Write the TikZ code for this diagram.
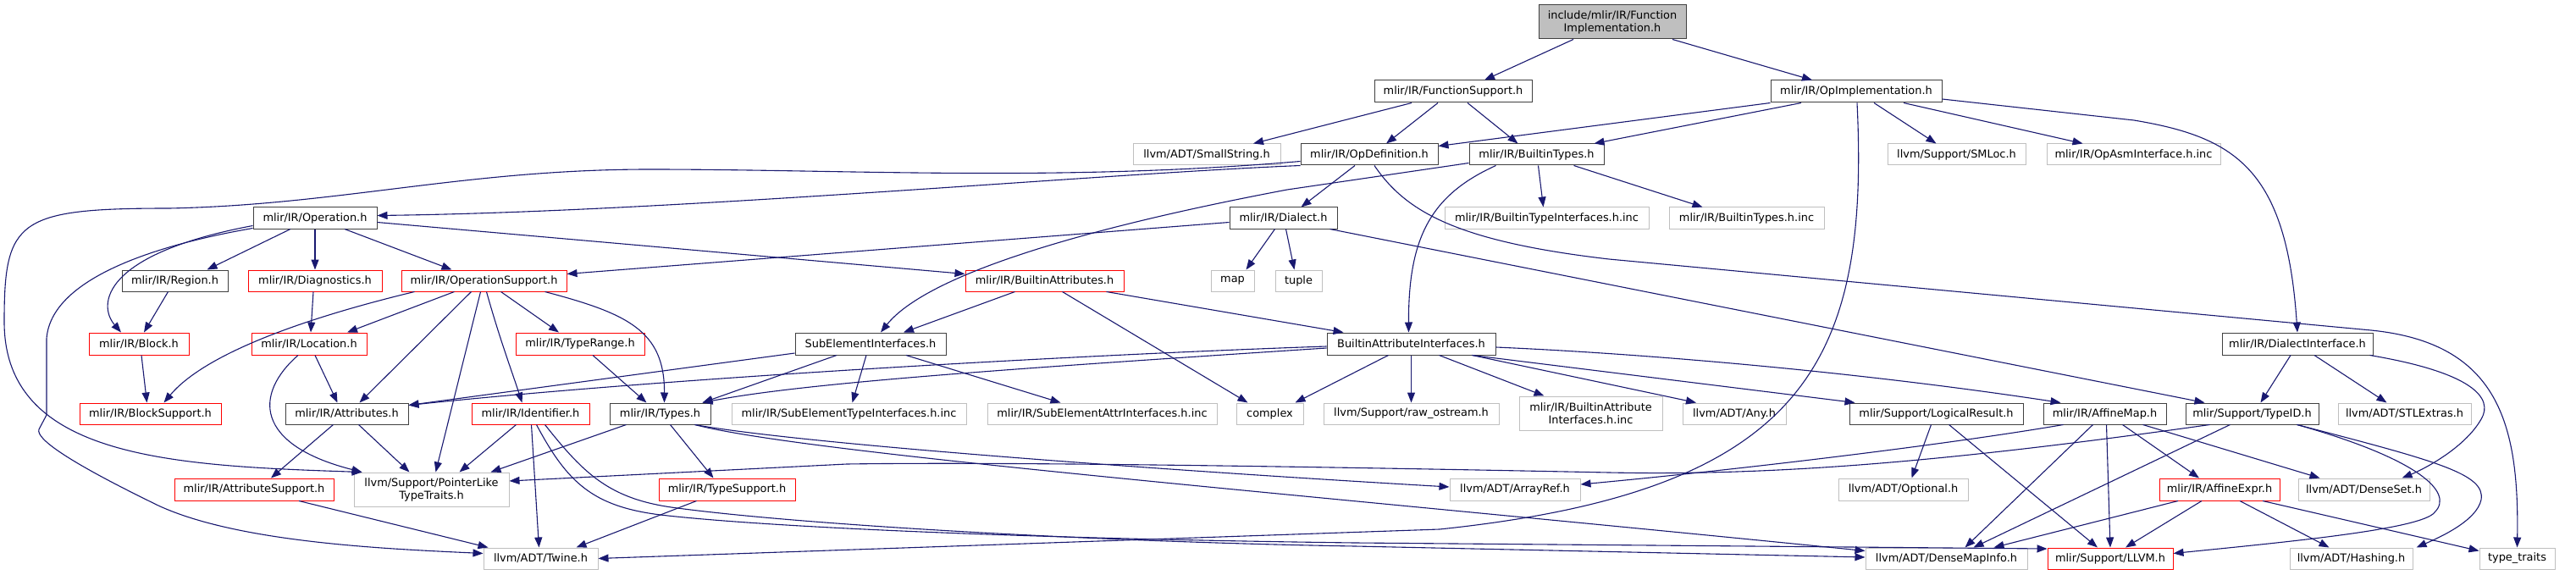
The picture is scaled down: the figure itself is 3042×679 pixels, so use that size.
\documentclass[tikz,border=0pt]{standalone}
\usepackage{fontspec}
\setmainfont{DejaVu Sans}
\usetikzlibrary{arrows.meta}
\definecolor{edgec}{HTML}{191970}
\definecolor{grayb}{HTML}{BFBFBF}
\definecolor{blackb}{HTML}{404040}
\newcommand\dxnode[7]{\node[#6, minimum width={(#4-#2)*1pt}, minimum height={(#5-#3)*1pt}] (#1) at ({(#2+#4)/2},{(#3+#5)/2}) {#7};}
\begin{document}
\begin{tikzpicture}[x=1pt,y=-1pt, font={\fontsize{12.9}{15}\selectfont},
 box/.style={draw, rectangle, inner sep=0pt, line width=1pt, align=center},
 bk/.style={box, draw=blackb},
 rd/.style={box, draw=red},
 gr/.style={box, draw=grayb},
 rt/.style={box, draw=blackb, fill=grayb},
 e/.style={draw=edgec, line width=1.1pt, -{Triangle[length=12pt,width=9pt]}}]
\useasboundingbox (0,0) rectangle (3042,679);
\dxnode{root}{1817}{6}{1991}{46}{rt}{include/mlir/IR/Function\\Implementation.h}
\dxnode{fs}{1623}{95}{1809}{121}{bk}{mlir/IR/FunctionSupport.h}
\dxnode{oi}{2091}{95}{2293}{121}{bk}{mlir/IR/OpImplementation.h}
\dxnode{ss}{1338}{170}{1512}{195}{gr}{llvm/ADT/SmallString.h}
\dxnode{od}{1536}{170}{1698}{195}{bk}{mlir/IR/OpDefinition.h}
\dxnode{bt}{1735}{170}{1894}{195}{bk}{mlir/IR/BuiltinTypes.h}
\dxnode{sm}{2229}{170}{2392}{195}{gr}{llvm/Support/SMLoc.h}
\dxnode{oa}{2417}{170}{2622}{195}{gr}{mlir/IR/OpAsmInterface.h.inc}
\dxnode{op}{299}{245}{445}{270}{bk}{mlir/IR/Operation.h}
\dxnode{di}{1452}{245}{1579}{270}{bk}{mlir/IR/Dialect.h}
\dxnode{bti}{1706}{245}{1947}{270}{gr}{mlir/IR/BuiltinTypeInterfaces.h.inc}
\dxnode{btinc}{1971}{245}{2154}{270}{gr}{mlir/IR/BuiltinTypes.h.inc}
\dxnode{rg}{144}{319}{269}{344}{bk}{mlir/IR/Region.h}
\dxnode{dg}{293}{319}{451}{344}{rd}{mlir/IR/Diagnostics.h}
\dxnode{os}{474}{319}{669}{344}{rd}{mlir/IR/OperationSupport.h}
\dxnode{ba}{1140}{319}{1327}{344}{rd}{mlir/IR/BuiltinAttributes.h}
\dxnode{map}{1430}{319}{1481}{344}{gr}{map}
\dxnode{tup}{1506}{319}{1561}{344}{gr}{tuple}
\dxnode{bl}{105}{393}{223}{419}{rd}{mlir/IR/Block.h}
\dxnode{lo}{297}{393}{433}{419}{rd}{mlir/IR/Location.h}
\dxnode{tr}{609}{393}{761}{419}{rd}{mlir/IR/TypeRange.h}
\dxnode{sei}{939}{393}{1117}{419}{bk}{SubElementInterfaces.h}
\dxnode{bai}{1567}{393}{1766}{419}{bk}{BuiltinAttributeInterfaces.h}
\dxnode{dif}{2624}{393}{2802}{419}{bk}{mlir/IR/DialectInterface.h}
\dxnode{bs}{94}{476}{261}{501}{rd}{mlir/IR/BlockSupport.h}
\dxnode{at}{337}{476}{482}{501}{bk}{mlir/IR/Attributes.h}
\dxnode{id}{557}{476}{696}{501}{rd}{mlir/IR/Identifier.h}
\dxnode{ty}{720}{476}{839}{501}{bk}{mlir/IR/Types.h}
\dxnode{seti}{864}{476}{1141}{501}{gr}{mlir/IR/SubElementTypeInterfaces.h.inc}
\dxnode{seai}{1166}{476}{1437}{501}{gr}{mlir/IR/SubElementAttrInterfaces.h.inc}
\dxnode{cx}{1460}{476}{1539}{501}{gr}{complex}
\dxnode{ro}{1563}{476}{1770}{501}{gr}{llvm/Support/raw\_ostream.h}
\dxnode{baii}{1794}{468}{1963}{508}{gr}{mlir/IR/BuiltinAttribute\\Interfaces.h.inc}
\dxnode{any}{1987}{476}{2109}{501}{gr}{llvm/ADT/Any.h}
\dxnode{lr}{2184}{476}{2389}{501}{bk}{mlir/Support/LogicalResult.h}
\dxnode{am}{2413}{476}{2558}{501}{bk}{mlir/IR/AffineMap.h}
\dxnode{tid}{2581}{476}{2738}{501}{bk}{mlir/Support/TypeID.h}
\dxnode{stl}{2761}{476}{2918}{501}{gr}{llvm/ADT/STLExtras.h}
\dxnode{as}{206}{565}{394}{591}{rd}{mlir/IR/AttributeSupport.h}
\dxnode{pl}{418}{558}{601}{598}{gr}{llvm/Support/PointerLike\\TypeTraits.h}
\dxnode{ts}{778}{565}{939}{591}{rd}{mlir/IR/TypeSupport.h}
\dxnode{ar}{1712}{565}{1866}{591}{gr}{llvm/ADT/ArrayRef.h}
\dxnode{opt}{2171}{565}{2324}{591}{gr}{llvm/ADT/Optional.h}
\dxnode{ae}{2550}{565}{2692}{591}{rd}{mlir/IR/AffineExpr.h}
\dxnode{ds}{2714}{565}{2869}{591}{gr}{llvm/ADT/DenseSet.h}
\dxnode{tw}{571}{647}{706}{672}{gr}{llvm/ADT/Twine.h}
\dxnode{dmi}{2203}{647}{2394}{672}{gr}{llvm/ADT/DenseMapInfo.h}
\dxnode{llvm}{2418}{647}{2566}{672}{rd}{mlir/Support/LLVM.h}
\dxnode{hs}{2704}{647}{2849}{672}{gr}{llvm/ADT/Hashing.h}
\dxnode{tt}{2928}{647}{3017}{672}{gr}{type\_traits}
% root
\draw[e] ([xshift=-46pt]root.south) -- ([xshift=37pt]fs.north);
\draw[e] ([xshift=71pt]root.south) -- ([xshift=-52pt]oi.north);
% FunctionSupport
\draw[e] ([xshift=-49pt]fs.south) -- ([xshift=55pt]ss.north);
\draw[e] ([xshift=-18pt]fs.south) -- ([xshift=20pt]od.north);
\draw[e] ([xshift=17pt]fs.south) -- ([xshift=-22pt]bt.north);
% OpImplementation
\draw[e] (oi.south west) -- ([yshift=-3pt]od.north east);
\draw[e] ([xshift=-65pt]oi.south) -- ([xshift=68pt]bt.north);
\draw[e] ([xshift=1pt]oi.south) .. controls (2208,430) and (2130,580) .. (1700,625) -- (tw.east);
\draw[e] ([xshift=21pt]oi.south) -- ([xshift=-24pt]sm.north);
\draw[e] ([xshift=56pt]oi.south) -- ([xshift=-60pt]oa.north);
\draw[e] ([yshift=-9pt]oi.east) -- (2520,142) .. controls (2640,162) and (2700,200) .. (dif.north);
% OpDefinition
\draw[e] (od.south west) .. controls (1300,205) and (800,250) .. ([yshift=3pt]op.east);
\draw[e] ([xshift=-17pt]od.south) -- ([xshift=21pt]di.north);
\draw[e] ([yshift=-8pt]od.west) .. controls (1250,215) and (1000,200) .. (767,200) .. controls (550,200) and (400,242) .. (200,246) .. controls (20,246) and (5,260) .. (5,380) .. controls (5,540) and (200,550) .. ([xshift=10pt]pl.north west);
\draw[e] ([xshift=6pt]od.south) .. controls (1660,250) and (1720,285) .. (1900,306) -- (2800,390) .. controls (2950,405) and (2975,500) .. (tt.north);
% BuiltinTypes
\draw[e] ([yshift=-10pt]bt.west) -- (1520,224) .. controls (1250,275) and (1090,330) .. ([xshift=12pt]sei.north);
\draw[e] ([xshift=-48pt]bt.south) .. controls (1690,230) and (1663,280) .. ([xshift=-3pt]bai.north);
\draw[e] ([xshift=2pt]bt.south) -- ([xshift=-4pt]bti.north);
\draw[e] ([xshift=44pt]bt.south) -- ([xshift=-52pt]btinc.north);
% Dialect
\draw[e] ([yshift=-5pt]di.west) -- ([yshift=8pt]os.east);
\draw[e] ([xshift=-10pt]di.south) -- ([xshift=16pt]map.north);
\draw[e] ([xshift=3pt]di.south) -- ([xshift=-5pt]tup.north);
\draw[e] ([xshift=55pt]di.south) -- ([xshift=-56pt]tid.north);
% Operation
\draw[e] ([xshift=-29pt]op.south) -- ([xshift=38pt]rg.north);
\draw[e] (op.south) -- (dg.north);
\draw[e] ([xshift=35pt]op.south) -- ([xshift=-38pt]os.north);
\draw[e] ([yshift=-5pt]op.east) -- ([yshift=8pt]ba.west);
\draw[e] ([yshift=-9pt]op.west) .. controls (120,300) and (115,360) .. ([xshift=-21pt]bl.north);
\draw[e] ([yshift=-12pt]op.west) .. controls (180,290) and (60,330) .. (55,400) -- (55,490) -- (46,507) .. controls (42,518) and (80,545) .. (187,597) .. controls (280,640) and (450,648) .. ([yshift=6pt]tw.west);
% Region, Diagnostics, Block
\draw[e] ([xshift=-8pt]rg.south) -- ([xshift=6pt]bl.north);
\draw[e] ([xshift=-2pt]dg.south) -- ([xshift=2pt]lo.north);
\draw[e] ([xshift=3pt]bl.south) -- ([xshift=-4pt]bs.north);
% OperationSupport
\draw[e] ([xshift=-82pt]os.south) .. controls (350,378) and (240,420) .. ([xshift=16pt]bs.north);
\draw[e] ([xshift=-35pt]os.south) -- ([xshift=45pt]lo.north);
\draw[e] ([xshift=-15pt]os.south) -- ([xshift=15pt]at.north);
\draw[e] ([xshift=-4pt]os.south) -- ([xshift=5pt]pl.north);
\draw[e] ([xshift=3pt]os.south) .. controls (590,400) and (605,440) .. ([xshift=-10pt]id.north);
\draw[e] ([xshift=20pt]os.south) -- ([xshift=-25pt]tr.north);
\draw[e] ([xshift=72pt]os.south) .. controls (740,370) and (785,390) .. ([xshift=5pt]ty.north);
% BuiltinAttributes
\draw[e] ([xshift=-35pt]ba.south) -- ([xshift=39pt]sei.north);
\draw[e] ([xshift=21pt]ba.south) -- ([xshift=-26pt]cx.north);
\draw[e] ([xshift=73pt]ba.south) -- ([xshift=-80pt]bai.north);
% Location, Attributes
\draw[e] ([xshift=7pt]lo.south) -- ([xshift=-11pt]at.north);
\draw[e] ([xshift=-13pt]lo.south) .. controls (300,465) and (300,525) .. ([xshift=10pt]pl.north west);
\draw[e] ([xshift=-16pt]at.south) -- ([xshift=20pt]as.north);
\draw[e] ([xshift=14pt]at.south) -- ([xshift=-26pt]pl.north);
\draw[e] ([xshift=53pt]as.south) -- ([xshift=-62pt]tw.north);
\draw[e] ([xshift=15pt]tr.south) -- ([xshift=-16pt]ty.north);
% SubElementInterfaces
\draw[e] ([yshift=-11pt]sei.west) -- ([yshift=10pt]at.east);
\draw[e] ([xshift=-40pt]sei.south) -- ([xshift=-10pt]ty.north east);
\draw[e] ([xshift=-5pt]sei.south) -- ([xshift=4pt]seti.north);
\draw[e] ([xshift=42pt]sei.south) -- ([xshift=-49pt]seai.north);
% BuiltinAttributeInterfaces
\draw[e] ([yshift=-3pt]bai.west) .. controls (1300,418) and (800,445) .. ([yshift=10pt]at.east);
\draw[e] ([yshift=-5pt]bai.west) .. controls (1200,435) and (950,452) .. ([xshift=-10pt]ty.north east);
\draw[e] ([xshift=-27pt]bai.south) -- ([xshift=30pt]cx.north);
\draw[e] (bai.south) -- (ro.north);
\draw[e] ([xshift=33pt]bai.south) -- ([xshift=-55pt]baii.north);
\draw[e] ([xshift=72pt]bai.south) -- ([xshift=-45pt]any.north);
\draw[e] ([xshift=72pt]bai.south) -- ([xshift=-96pt]lr.north);
\draw[e] ([yshift=-4pt]bai.east) .. controls (1950,418) and (2200,440) .. ([xshift=-52pt]am.north);
% Types
\draw[e] ([xshift=-40pt]ty.south) -- ([xshift=70pt]pl.north);
\draw[e] ([xshift=12pt]ty.south) -- ([xshift=-16pt]ts.north);
\draw[e] ([xshift=-19pt]ty.south east) .. controls (950,525) and (1400,557) .. ([yshift=3pt]ar.west);
\draw[e] ([xshift=-19pt]ty.south east) .. controls (950,535) and (1500,580) .. ([yshift=9pt]dmi.west);
\draw[e] ([xshift=-36pt]ts.south) -- ([xshift=42pt]tw.north);
% Identifier
\draw[e] ([xshift=-17pt]id.south) -- ([xshift=33pt]pl.north);
\draw[e] ([xshift=1pt]id.south) -- ([xshift=-2pt]tw.north);
\draw[e] ([xshift=7pt]id.south) .. controls (670,570) and (700,598) .. (780,608) .. controls (900,622) and (1200,636) .. (1600,641) -- ([yshift=11.5pt]llvm.west);
\draw[e] ([xshift=17pt]id.south) .. controls (690,560) and (720,590) .. (800,600) .. controls (950,620) and (1300,640) .. (1600,645) -- ([yshift=1.5pt]dmi.west);
% AffineMap, TypeID
\draw[e] ([xshift=24pt]am.south west) .. controls (2300,525) and (2050,555) .. ([yshift=6pt]ar.east);
\draw[e] ([xshift=29pt]tid.south west) .. controls (2300,545) and (2100,562) .. (1900,558) .. controls (1600,552) and (1200,545) .. (1000,548) -- ([yshift=10pt]pl.east);
\draw[e] ([xshift=-14pt]am.south) -- ([xshift=22pt]dmi.north);
\draw[e] ([xshift=2pt]am.south) -- (llvm.north);
\draw[e] ([xshift=21pt]am.south) -- ([xshift=-24pt]ae.north);
\draw[e] ([xshift=45pt]am.south) -- ([xshift=-52pt]ds.north);
\draw[e] ([xshift=-6pt]lr.south) -- ([xshift=10pt]opt.north);
\draw[e] ([xshift=15pt]lr.south) -- ([xshift=-15pt]llvm.north);
\draw[e] ([xshift=-26pt]tid.south) -- ([xshift=32pt]dmi.north);
\draw[e] ([xshift=53pt]tid.south) .. controls (2850,540) and (2900,580) .. (2875,605) .. controls (2860,625) and (2700,640) .. ([yshift=6pt]llvm.east);
\draw[e] ([xshift=53pt]tid.south) .. controls (2880,545) and (2935,560) .. (2930,590) .. controls (2925,615) and (2880,635) .. ([xshift=4pt]hs.north east);
% AffineExpr
\draw[e] ([xshift=-49pt]ae.south) -- ([xshift=56pt]dmi.north);
\draw[e] ([xshift=-21pt]ae.south) -- ([xshift=18pt]llvm.north);
\draw[e] ([xshift=24pt]ae.south) -- ([xshift=-26pt]hs.north);
\draw[e] ([xshift=51pt]ae.south) -- ([yshift=9pt]tt.west);
% DialectInterface
\draw[e] ([xshift=-8pt]dif.south) -- ([xshift=10pt]tid.north);
\draw[e] ([xshift=20pt]dif.south) -- ([xshift=-21pt]stl.north);
\draw[e] ([xshift=-4pt]dif.south east) .. controls (2920,440) and (2945,470) .. (2930,495) .. controls (2910,530) and (2860,555) .. ([xshift=45pt]ds.north);
\end{tikzpicture}
\end{document}
